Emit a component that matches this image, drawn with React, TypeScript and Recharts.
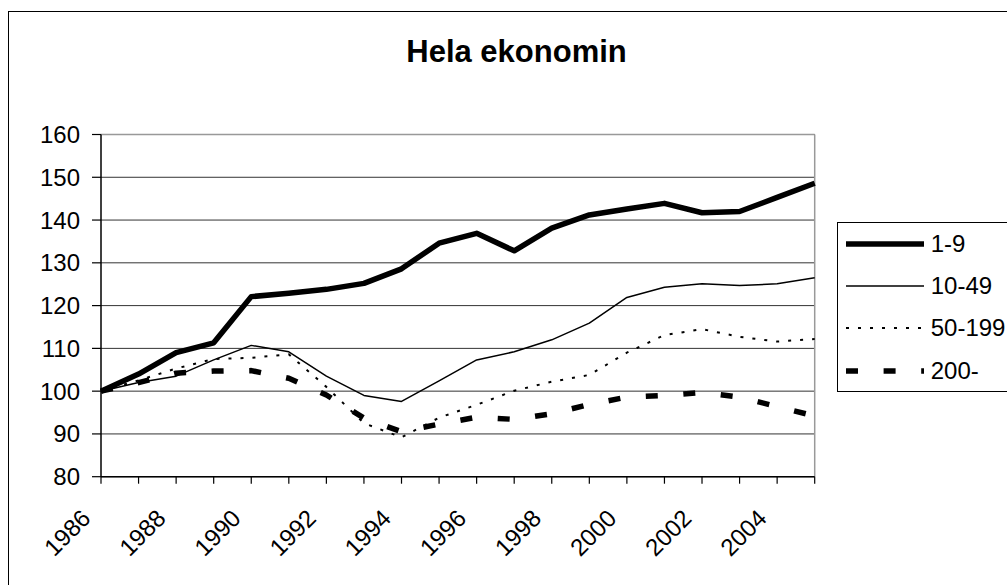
import { LineChart, Line, XAxis, YAxis, CartesianGrid, ReferenceLine, Legend } from 'recharts';

const years = ['1986', '1987', '1988', '1989', '1990', '1991', '1992', '1993', '1994', '1995',
  '1996', '1997', '1998', '1999', '2000', '2001', '2002', '2003', '2004', '2005'];

const size1to9 = [100, 104, 109, 111.3, 122.1, 122.9, 123.8, 125.2, 128.6, 134.6,
  136.9, 132.8, 138.1, 141.2, 142.6, 143.9, 141.7, 142.0, 145.3, 148.6];
const size10to49 = [100, 102.0, 103.5, 107.3, 110.7, 109.2, 103.5, 99.0, 97.6, 102.4,
  107.3, 109.2, 112.0, 115.9, 121.9, 124.3, 125.1, 124.7, 125.1, 126.5];
const size50to199 = [100, 102.5, 105.3, 107.5, 107.8, 108.6, 101.0, 92.5, 89.2, 93.8,
  96.8, 100.1, 102.2, 103.8, 109.0, 113.1, 114.5, 112.7, 111.6, 112.2];
const size200plus = [100, 102, 104.2, 104.7, 104.8, 103.0, 99.1, 93.7, 90.5, 92.3,
  93.9, 93.4, 94.7, 96.9, 98.6, 99.0, 99.7, 98.6, 96.4, 94.2];

const yTicks = [80, 90, 100, 110, 120, 130, 140, 150, 160];

const title = 'Hela ekonomin';

// legend order; drawing order is reversed so 1-9 sits on top
const series = [
  { key: 's1', name: '1-9', width: 5.5, dash: undefined },
  { key: 's10', name: '10-49', width: 1.5, dash: undefined },
  { key: 's50', name: '50-199', width: 2, dash: '3 9' },
  { key: 's200', name: '200-', width: 5.5, dash: '12 25.6' },
];

const data = years.map((year, i) => ({
  year,
  s1: size1to9[i],
  s10: size10to49[i],
  s50: size50to199[i],
  s200: size200plus[i],
}));

const FONT = "'Liberation Sans', Arial, sans-serif";

const XTick = (props: any) => {
  const { x, y, payload, index } = props;
  if (index % 2 === 1) return null;
  const tx = x - 21;
  const ty = y + 22;
  return (
    <text
      x={tx}
      y={ty}
      dy="0.71em"
      textAnchor="end"
      fontSize={24}
      fontFamily={FONT}
      fill="#000"
      transform={`rotate(-45, ${tx}, ${ty})`}
    >
      {payload.value}
    </text>
  );
};

const LegendBox = () => (
  <div
    style={{
      position: 'relative',
      width: 200,
      height: 170,
      border: '1.5px solid #000',
      background: '#fff',
      boxSizing: 'border-box',
    }}
  >
    {series.map((s, i) => {
      const cy = 21 + i * 42.4;
      return (
        <div key={s.key}>
          <svg style={{ position: 'absolute', left: 0, top: cy - 10 }} width={92} height={20}>
            <line
              x1={8}
              x2={86}
              y1={10}
              y2={10}
              stroke="#000"
              strokeWidth={s.width}
              strokeDasharray={s.dash}
            />
          </svg>
          <span
            style={{
              position: 'absolute',
              left: 93,
              top: cy - 14,
              fontSize: 24,
              lineHeight: '28px',
              fontFamily: FONT,
              color: '#000',
              whiteSpace: 'nowrap',
            }}
          >
            {s.name}
          </span>
        </div>
      );
    })}
  </div>
);

export default function App() {
  return (
    <div
      style={{
        position: 'absolute',
        left: 0,
        top: 0,
        width: 1007,
        height: 585,
        overflow: 'hidden',
        background: '#fff',
      }}
    >
      <div
        style={{
          position: 'absolute',
          left: 8,
          top: 11,
          width: 1100,
          height: 700,
          border: '1.5px solid #000',
        }}
      />
      <svg style={{ position: 'absolute', left: 0, top: 0 }} width={1007} height={90}>
        <text
          x={516.5}
          y={62}
          textAnchor="middle"
          fontSize={31}
          fontWeight="bold"
          fontFamily={FONT}
          fill="#000"
        >
          {title}
        </text>
      </svg>
      <div style={{ position: 'absolute', left: 0, top: 0 }}>
        <LineChart
          width={1007}
          height={585}
          data={data}
          margin={{ top: 134.5, right: 192.3, bottom: 28.3, left: 9 }}
        >
          <CartesianGrid vertical={false} stroke="#333" strokeWidth={1} />
          <XAxis
            dataKey="year"
            interval={0}
            height={80}
            tickSize={7}
            tick={<XTick />}
            axisLine={{ stroke: '#000', strokeWidth: 1.5 }}
            tickLine={{ stroke: '#000', strokeWidth: 1.2 }}
          />
          <YAxis
            width={92}
            domain={[80, 160]}
            ticks={yTicks}
            interval={0}
            tickSize={9}
            tickMargin={12}
            tick={{ fontSize: 24, fontFamily: FONT, fill: '#000' }}
            axisLine={{ stroke: '#000', strokeWidth: 1.5 }}
            tickLine={{ stroke: '#000', strokeWidth: 1.2 }}
          />
          <ReferenceLine y={160} stroke="#999" strokeWidth={1.5} />
          <ReferenceLine x="2005" stroke="#999" strokeWidth={1.5} />
          {[...series].reverse().map((s) => (
            <Line
              key={s.key}
              type="linear"
              dataKey={s.key}
              name={s.name}
              stroke="#000"
              strokeWidth={s.width}
              strokeDasharray={s.dash}
              strokeLinejoin="round"
              dot={false}
              activeDot={false}
              isAnimationActive={false}
            />
          ))}
          <Legend
            layout="vertical"
            align="center"
            verticalAlign="middle"
            content={<LegendBox />}
            wrapperStyle={{ left: 836.7, top: 221.7, width: 200, height: 170 }}
          />
        </LineChart>
      </div>
    </div>
  );
}
